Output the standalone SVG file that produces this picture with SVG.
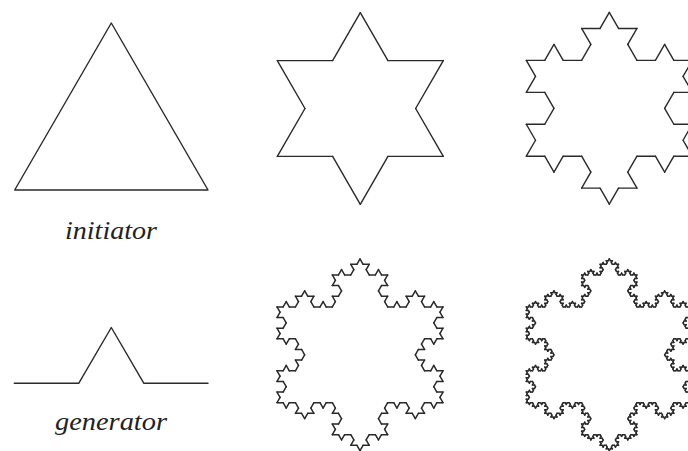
<svg xmlns="http://www.w3.org/2000/svg" xmlns:xlink="http://www.w3.org/1999/xlink" width="688" height="451" viewBox="0 0 688 451">
<style>
.ln{fill:none;stroke:#2a2a2a;stroke-width:1.4;stroke-linejoin:round;stroke-linecap:round}
.kf{fill:none;stroke:#2a2a2a;stroke-linecap:round;stroke-linejoin:round}
.lbl{font-family:"Liberation Serif","Times New Roman",serif;font-style:italic;font-size:25px;fill:#222}
</style>
<defs>
<path id="k0" d="M0 0H1"/>
<g id="k1">
<use xlink:href="#k0" transform="scale(0.3333333)"/>
<use xlink:href="#k0" transform="translate(0.3333333 0) rotate(-60) scale(0.3333333)"/>
<use xlink:href="#k0" transform="translate(0.5 -0.2886751) rotate(60) scale(0.3333333)"/>
<use xlink:href="#k0" transform="translate(0.6666667 0) scale(0.3333333)"/>
</g>
<g id="k2">
<use xlink:href="#k1" transform="scale(0.3333333)"/>
<use xlink:href="#k1" transform="translate(0.3333333 0) rotate(-60) scale(0.3333333)"/>
<use xlink:href="#k1" transform="translate(0.5 -0.2886751) rotate(60) scale(0.3333333)"/>
<use xlink:href="#k1" transform="translate(0.6666667 0) scale(0.3333333)"/>
</g>
<g id="k3">
<use xlink:href="#k2" transform="scale(0.3333333)"/>
<use xlink:href="#k2" transform="translate(0.3333333 0) rotate(-60) scale(0.3333333)"/>
<use xlink:href="#k2" transform="translate(0.5 -0.2886751) rotate(60) scale(0.3333333)"/>
<use xlink:href="#k2" transform="translate(0.6666667 0) scale(0.3333333)"/>
</g>
<g id="k4">
<use xlink:href="#k3" transform="scale(0.3333333)"/>
<use xlink:href="#k3" transform="translate(0.3333333 0) rotate(-60) scale(0.3333333)"/>
<use xlink:href="#k3" transform="translate(0.5 -0.2886751) rotate(60) scale(0.3333333)"/>
<use xlink:href="#k3" transform="translate(0.6666667 0) scale(0.3333333)"/>
</g>
</defs>

<g id="initiator">
<polygon class="ln" points="111.3,23 14.7,190 208,190"/>
<text class="lbl" x="65" y="239" textLength="92" lengthAdjust="spacingAndGlyphs">initiator</text>
</g>

<g id="generator">
<polyline class="ln" points="14.3,383.3 78.7,383.3 111.3,327.5 143.9,383.3 208,383.3"/>
<text class="lbl" x="55" y="430" textLength="112" lengthAdjust="spacingAndGlyphs">generator</text>
</g>

<g id="iteration1" class="kf" style="stroke-width:0.0253">
<use xlink:href="#k1" transform="translate(360.3 12.66) rotate(60) scale(166)"/>
<use xlink:href="#k1" transform="translate(443.3 156.42) rotate(180) scale(166)"/>
<use xlink:href="#k1" transform="translate(277.3 156.42) rotate(-60) scale(166)"/>
</g>

<g id="iteration2" class="kf" style="stroke-width:0.0759">
<use xlink:href="#k2" transform="translate(609.3 12.46) rotate(60) scale(166)"/>
<use xlink:href="#k2" transform="translate(692.3 156.22) rotate(180) scale(166)"/>
<use xlink:href="#k2" transform="translate(526.3 156.22) rotate(-60) scale(166)"/>
</g>

<g id="iteration3" class="kf" style="stroke-width:0.244">
<use xlink:href="#k3" transform="translate(360 258.96) rotate(60) scale(166)"/>
<use xlink:href="#k3" transform="translate(443 402.72) rotate(180) scale(166)"/>
<use xlink:href="#k3" transform="translate(277 402.72) rotate(-60) scale(166)"/>
</g>

<g id="iteration4" class="kf" style="stroke-width:0.732">
<use xlink:href="#k4" transform="translate(609.3 258.96) rotate(60) scale(166)"/>
<use xlink:href="#k4" transform="translate(692.3 402.72) rotate(180) scale(166)"/>
<use xlink:href="#k4" transform="translate(526.3 402.72) rotate(-60) scale(166)"/>
</g>
</svg>
